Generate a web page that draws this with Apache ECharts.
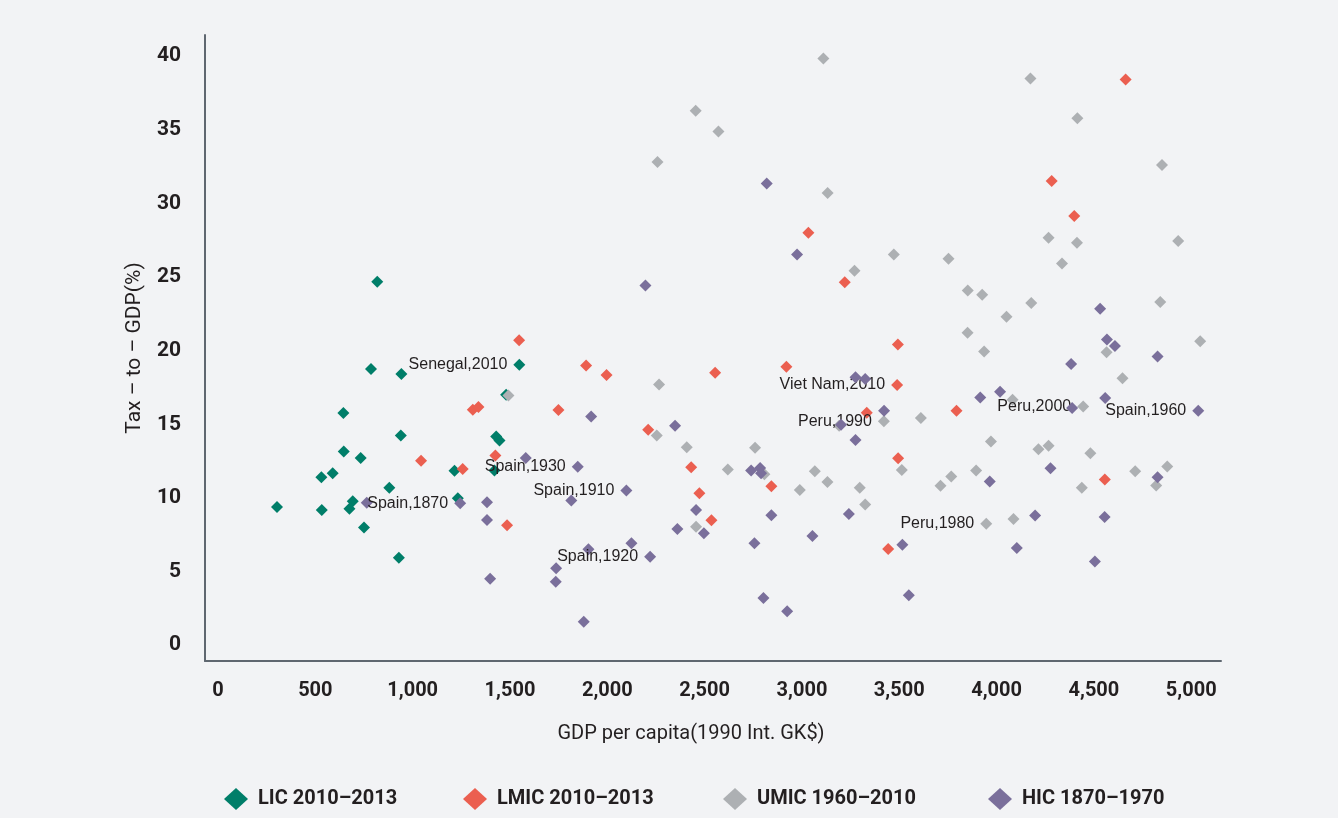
<!DOCTYPE html>
<html>
<head>
<meta charset="utf-8">
<script src="https://cdn.jsdelivr.net/npm/echarts@6/dist/echarts.min.js"></script>
<style>
html,body{margin:0;padding:0;background:#F2F3F5;}
#chart{width:1338px;height:818px;}
</style>
</head>
<body>
<div id="chart"></div>
<script>
// Values: [GDP per capita, tax-to-GDP %, optional point label]
const licPoints = [
  [303, 9.39],[818, 24.67],[786, 18.75],[942, 18.41],[644, 15.76],[939, 14.24],[646, 13.15],
  [733, 12.72],[589, 11.68],[531, 11.41],[880, 10.70],[692, 9.77],[675, 9.27],[533, 9.18],
  [750, 8.0],[929, 5.94],[1215, 11.84],[1232, 9.98],[1548, 19.05, 'Senegal,2010'],[1480, 17.0],
  [1429, 14.17],[1446, 13.9],[1420, 11.86]
];
const lmicPoints = [
  [1043, 12.52],[1257, 11.97],[1547, 20.7],[1891, 19.0],[1996, 18.35],[1309, 15.99],[1338, 16.17],
  [1749, 15.97],[1425, 12.88],[1485, 8.14],[2210, 14.63],[2431, 12.09],[2473, 10.32],[2535, 8.48],
  [2554, 18.5],[2920, 18.91],[3033, 28.0],[3220, 24.65],[3493, 20.41],[3489, 17.67, 'Viet Nam,2010'],
  [3333, 15.78],[3494, 12.70],[2843, 10.80],[3443, 6.53],[3794, 15.92],[4556, 11.25],[4663, 38.41],
  [4283, 31.52],[4399, 29.14]
];
const umicPoints = [
  [3110, 39.84],[2454, 36.28],[2571, 34.88],[2258, 32.81],[3132, 30.70],[4174, 38.48],[4415, 35.78],
  [4850, 32.61],[4267, 27.66],[4413, 27.32],[4933, 27.44],[4336, 25.92],[3472, 26.53],[3753, 26.24],
  [3270, 25.42],[3852, 24.08],[3926, 23.79],[4178, 23.24],[4841, 23.31],[4051, 22.31],[3851, 21.22],
  [3936, 19.95],[4565, 19.89],[5046, 20.63],[4647, 18.12],[4082, 16.67],[4445, 16.21, 'Peru,2000'],
  [3421, 15.21, 'Peru,1990'],[3611, 15.42],[3191, 14.9],[2759, 13.40],[2619, 11.93],[2807, 11.61],
  [3066, 11.81],[3131, 11.09],[2989, 10.54],[3297, 10.70],[3325, 9.55],[3513, 11.9],[3712, 10.82],
  [3767, 11.45],[1492, 16.96],[2266, 17.71],[2254, 14.24],[2408, 13.44],[2456, 8.05],[3971, 13.83],
  [4215, 13.31],[4267, 13.54],[4482, 13.04],[3895, 11.86],[4712, 11.81],[4877, 12.13],[4820, 10.84],
  [4438, 10.70],[3947, 8.25, 'Peru,1980'],[4087, 8.57]
];
const hicPoints = [
  [2819, 31.34],[2975, 26.53],[2196, 24.42],[3275, 18.19],[3325, 18.08],[3422, 15.92],[3201, 14.97],
  [3275, 13.93],[2739, 11.86],[2785, 12.04],[2790, 11.68],[2843, 8.82],[3241, 8.91],[2756, 6.92],
  [3054, 7.41],[3516, 6.82],[2802, 3.20],[2924, 2.31],[3549, 3.40],[2496, 7.6],[1917, 15.53],
  [2348, 14.90],[1581, 12.72],[1848, 12.11, 'Spain,1930'],[2098, 10.50, 'Spain,1910'],[1815, 9.82],
  [2456, 9.18],[1244, 9.64, 'Spain,1870'],[1382, 9.71],[1382, 8.50],[2360, 7.89],[2124, 6.92],
  [1903, 6.51],[2220, 6.01, 'Spain,1920'],[1737, 5.22],[1735, 4.31],[1398, 4.51],[1879, 1.59],
  [764, 9.68],[4532, 22.84],[4567, 20.75],[4608, 20.32],[4827, 19.61],[4383, 19.09],[3916, 16.82],
  [4018, 17.21],[4388, 16.10],[4558, 16.78],[5036, 15.92, 'Spain,1960'],[4277, 12.02],[3965, 11.11],
  [4827, 11.41],[4198, 8.80],[4555, 8.71],[4104, 6.60],[4505, 5.69]
];
const seriesNames = ['LIC 2010\u20132013', 'LMIC 2010\u20132013', 'UMIC 1960\u20132010', 'HIC 1870\u20131970'];
const seriesColors = ['#007E69', '#EB5F50', '#ADB0B3', '#7A6F9B'];
const xTicks = [0, 500, 1000, 1500, 2000, 2500, 3000, 3500, 4000, 4500, 5000];
const yTicks = [0, 5, 10, 15, 20, 25, 30, 35, 40];

const narrow = 'Roboto, "Liberation Sans", sans-serif';
const textColor = '#231F20';

function toData(points) {
  return points.map(p => {
    const item = { value: [p[0], p[1]] };
    if (p[2]) {
      item.label = {
        show: true, formatter: p[2], position: 'left', distance: 6,
        color: textColor, fontSize: 16, fontFamily: '"Liberation Sans", Arial, sans-serif'
      };
    }
    return item;
  });
}

const allPoints = [licPoints, lmicPoints, umicPoints, hicPoints];
const series = allPoints.map((pts, i) => ({
  name: seriesNames[i],
  type: 'scatter',
  symbol: 'diamond',
  symbolSize: 12,
  itemStyle: { color: seriesColors[i], opacity: 1 },
  data: toData(pts),
  z: 2 + i
}));

const legendLefts = [219, 458, 718, 983];
const legends = seriesNames.map((n, i) => ({
  data: [n],
  left: legendLefts[i],
  top: 783,
  icon: 'diamond',
  itemWidth: 24,
  itemHeight: 22,
  textStyle: { fontSize: 20, fontWeight: 'bold', fontFamily: narrow, color: textColor, padding: [0, 0, 0, 5] }
}));

const chart = echarts.init(document.getElementById('chart'));
chart.setOption({
  backgroundColor: '#F2F3F5',
  animation: false,
  grid: { left: 205, right: 117, top: 35, bottom: 157 },
  legend: legends,
  xAxis: {
    type: 'value', min: -67, max: 5153,
    name: 'GDP per capita(1990 Int. GK$)', nameLocation: 'middle', nameGap: 63,
    nameTextStyle: { fontSize: 20, fontFamily: narrow, color: textColor, padding: [0, 44, 0, 0] },
    splitLine: { show: false },
    axisLine: { show: true, onZero: false, lineStyle: { color: '#5F6770', width: 2 } },
    axisTick: { show: false },
    axisLabel: {
      customValues: xTicks, margin: 20, fontSize: 20, fontWeight: 'bold', fontFamily: narrow, color: textColor,
      formatter: v => v.toLocaleString('en-US')
    }
  },
  yAxis: {
    type: 'value', min: -1.07, max: 41.43,
    name: 'Tax \u2013 to \u2013 GDP(%)', nameLocation: 'middle', nameGap: 60,
    nameTextStyle: { fontSize: 21, fontFamily: narrow, color: textColor },
    splitLine: { show: false },
    axisLine: { show: true, onZero: false, lineStyle: { color: '#5F6770', width: 2 } },
    axisTick: { show: false },
    axisLabel: {
      customValues: yTicks, margin: 24, fontSize: 21, fontWeight: 'bold', fontFamily: narrow, color: textColor
    }
  },
  series: series
});
</script>
</body>
</html>
